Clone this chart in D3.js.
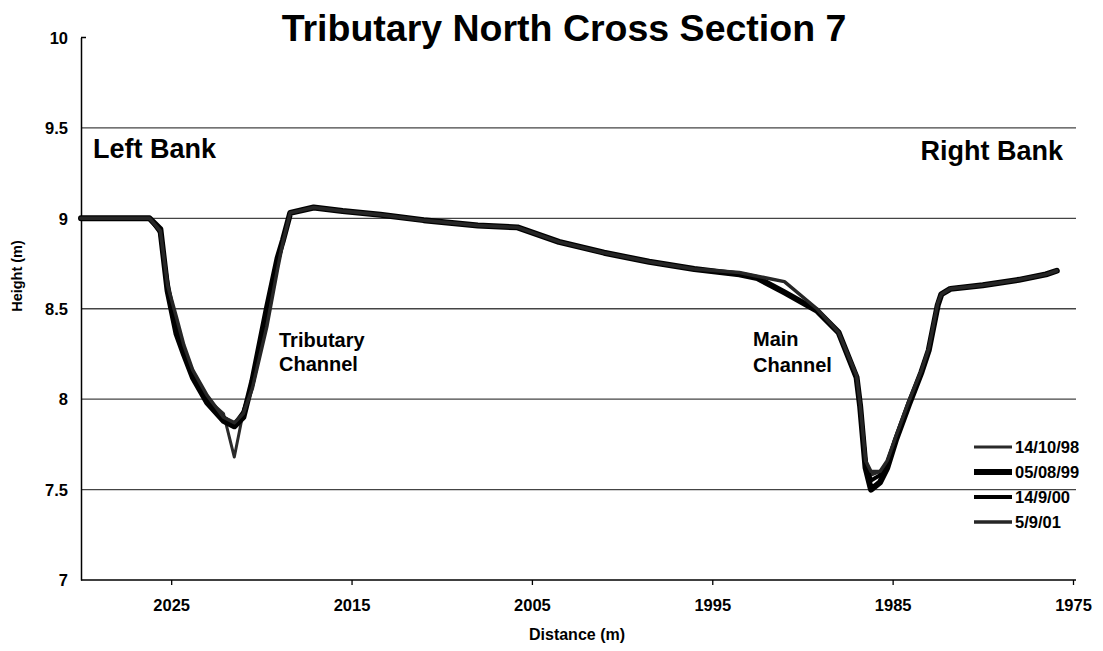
<!DOCTYPE html>
<html>
<head>
<meta charset="utf-8">
<script src="https://cdn.jsdelivr.net/npm/d3@7"></script>
<style>
  html, body { margin: 0; padding: 0; background: #fff; }
  svg text { font-family: "Liberation Sans", Arial, sans-serif; font-weight: bold; fill: #000; }
</style>
</head>
<body>
<svg id="chart" width="1103" height="651"></svg>
<script>
// ---- Data ----
const distances = [2030, 2027, 2026.2, 2025.6, 2025.2, 2024.7, 2024.3, 2023.8, 2023.0, 2022.1,
  2021.5, 2021.0, 2020.5, 2019.7, 2019.1, 2018.8, 2018.4, 2017.1, 2015.5, 2013.4,
  2011, 2008, 2005.8, 2003.5, 2001, 1998.5, 1996, 1993.5, 1992.5, 1991,
  1989.2, 1988, 1987.0, 1986.8, 1986.5, 1986.2, 1985.7, 1985.3, 1984.8, 1984.1,
  1983.4, 1983.0, 1982.5, 1982.3, 1981.8, 1980, 1978, 1976.5, 1975.9];

const h_14_10_98 = [9.00, 9.00, 9.00, 8.92, 8.66, 8.40, 8.27, 8.15, 8.00, 7.92,
  7.68, 7.93, 8.08, 8.44, 8.75, 8.88, 9.03, 9.06, 9.04, 9.02,
  8.99, 8.96, 8.95, 8.87, 8.81, 8.76, 8.72, 8.69, 8.67, 8.59,
  8.49, 8.37, 8.12, 7.96, 7.65, 7.58, 7.60, 7.65, 7.79, 7.98,
  8.15, 8.27, 8.52, 8.58, 8.61, 8.63, 8.66, 8.69, 8.71];

const h_05_08_99 = [9.00, 9.00, 9.00, 8.94, 8.60, 8.36, 8.25, 8.12, 7.98, 7.88,
  7.85, 7.90, 8.10, 8.50, 8.78, 8.88, 9.03, 9.06, 9.04, 9.02,
  8.99, 8.96, 8.95, 8.87, 8.81, 8.76, 8.72, 8.69, 8.67, 8.59,
  8.49, 8.37, 8.12, 7.96, 7.62, 7.50, 7.54, 7.62, 7.78, 7.97,
  8.15, 8.27, 8.52, 8.58, 8.61, 8.63, 8.66, 8.69, 8.71];

const h_14_9_00 = [9.00, 9.00, 9.00, 8.92, 8.62, 8.42, 8.27, 8.15, 8.00, 7.90,
  7.86, 7.93, 8.08, 8.44, 8.75, 8.88, 9.03, 9.06, 9.04, 9.02,
  8.99, 8.96, 8.95, 8.87, 8.81, 8.76, 8.72, 8.69, 8.67, 8.59,
  8.49, 8.37, 8.12, 7.96, 7.65, 7.55, 7.58, 7.65, 7.79, 7.98,
  8.15, 8.27, 8.52, 8.58, 8.61, 8.63, 8.66, 8.69, 8.71];

const h_5_9_01 = [9.00, 9.00, 9.00, 8.93, 8.63, 8.45, 8.30, 8.16, 8.02, 7.90,
  7.87, 7.92, 8.06, 8.40, 8.72, 8.87, 9.03, 9.06, 9.04, 9.02,
  8.99, 8.96, 8.95, 8.87, 8.81, 8.76, 8.72, 8.70, 8.68, 8.65,
  8.50, 8.37, 8.13, 7.97, 7.66, 7.60, 7.60, 7.66, 7.80, 7.99,
  8.16, 8.28, 8.53, 8.58, 8.61, 8.63, 8.66, 8.69, 8.71];

const seriesNames = ["14/10/98", "05/08/99", "14/9/00", "5/9/01"];
const seriesValues = [h_14_10_98, h_05_08_99, h_14_9_00, h_5_9_01];
const seriesColors = ["#2a2a2a", "#000000", "#000000", "#262626"];
const seriesWidths = [3, 6, 4, 3.5];

const xTicks = [2025, 2015, 2005, 1995, 1985, 1975];
const yTicks = [7, 7.5, 8, 8.5, 9, 9.5, 10];
const gridValues = [7.5, 8, 8.5, 9, 9.5];

// ---- Layout ----
const svg = d3.select("#chart");
const plotLeft = 81, plotRight = 1076, plotTop = 37.5, plotBottom = 580;

const x = d3.scaleLinear().domain([2030, 1975]).range([plotLeft, 1073]);
const y = d3.scaleLinear().domain([7, 10]).range([plotBottom, plotTop]);

// gridlines
svg.append("g").selectAll("line").data(gridValues).join("line")
  .attr("x1", plotLeft).attr("x2", plotRight)
  .attr("y1", d => y(d)).attr("y2", d => y(d))
  .attr("stroke", "#444").attr("stroke-width", 1.3);

// y axis
const yAxis = d3.axisLeft(y).tickValues(yTicks).tickSize(0).tickPadding(13)
  .tickFormat(d => d3.format("")(d));
const gy = svg.append("g").attr("transform", `translate(${plotLeft},0)`).call(yAxis);
gy.select(".domain").attr("stroke", "#000").attr("stroke-width", 1.5);
gy.selectAll("text").style("font-size", "16.5px").attr("dy", "0.35em");
// small inner tick at top
svg.append("line").attr("x1", plotLeft).attr("x2", plotLeft + 5)
  .attr("y1", y(10)).attr("y2", y(10)).attr("stroke", "#000").attr("stroke-width", 1.5);

// x axis
const xAxis = d3.axisBottom(x).tickValues(xTicks).tickSize(5).tickPadding(14)
  .tickFormat(d3.format("d"));
const gx = svg.append("g").attr("transform", `translate(0,${plotBottom})`).call(xAxis);
gx.select(".domain").attr("d", `M${plotLeft},0H${plotRight}`).attr("stroke", "#000").attr("stroke-width", 1.5);
gx.selectAll(".tick line").attr("stroke", "#000").attr("stroke-width", 1.3);
gx.selectAll("text").style("font-size", "16.5px");

// lines
const line = d3.line().x(d => x(d[0])).y(d => y(d[1]));
seriesValues.forEach((vals, i) => {
  const pts = distances.map((d, j) => [d, vals[j]]);
  svg.append("path").datum(pts)
    .attr("fill", "none")
    .attr("stroke", seriesColors[i])
    .attr("stroke-width", seriesWidths[i])
    .attr("stroke-linejoin", "round")
    .attr("stroke-linecap", "round")
    .attr("d", line);
});

// title
svg.append("text").attr("x", 564).attr("y", 41).attr("text-anchor", "middle")
  .style("font-size", "37.5px").text("Tributary North Cross Section 7");

// annotations
svg.append("text").attr("x", 93).attr("y", 158).style("font-size", "27px").text("Left Bank");
svg.append("text").attr("x", 1063).attr("y", 160).attr("text-anchor", "end").style("font-size", "27px").text("Right Bank");
const ann = [["Tributary", 279, 347], ["Channel", 279, 371], ["Main", 753, 346], ["Channel", 753, 372]];
svg.append("g").selectAll("text").data(ann).join("text")
  .attr("x", d => d[1]).attr("y", d => d[2]).style("font-size", "20px").text(d => d[0]);

// axis titles
svg.append("text").attr("x", 577).attr("y", 640).attr("text-anchor", "middle")
  .style("font-size", "16px").text("Distance (m)");
svg.append("text").attr("transform", "translate(22,276) rotate(-90)").attr("text-anchor", "middle")
  .style("font-size", "14.5px").text("Height (m)");

// legend
const lg = svg.append("g");
const legY = [447, 472, 497, 522];
seriesNames.forEach((name, i) => {
  lg.append("line").attr("x1", 974).attr("x2", 1012)
    .attr("y1", legY[i]).attr("y2", legY[i])
    .attr("stroke", seriesColors[i]).attr("stroke-width", seriesWidths[i]);
  lg.append("text").attr("x", 1015).attr("y", legY[i]).attr("dy", "0.36em")
    .style("font-size", "16.5px").text(name);
});
</script>
</body>
</html>
